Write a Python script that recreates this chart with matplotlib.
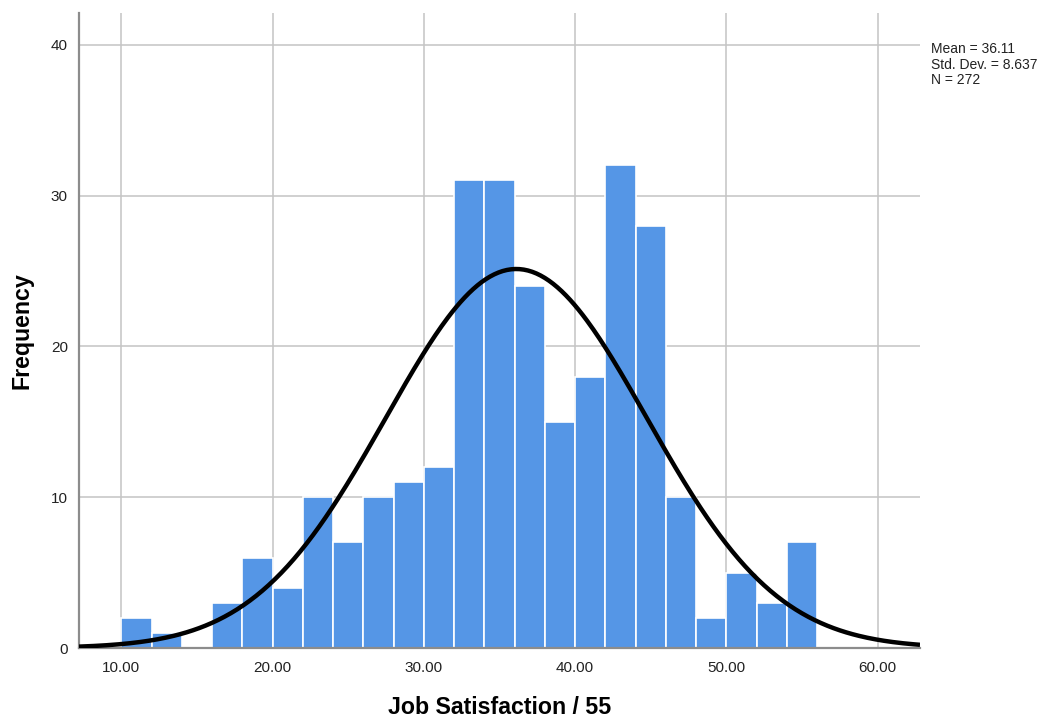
import numpy as np
import matplotlib
matplotlib.use("Agg")
import matplotlib.pyplot as plt

plt.rcParams['font.family'] = ['Liberation Sans', 'DejaVu Sans']

bin_edges = [10, 12, 14, 16, 18, 20, 22, 24, 26, 28, 30, 32, 34, 36, 38, 40,
             42, 44, 46, 48, 50, 52, 54, 56]
counts = [2, 1, 0, 3, 6, 4, 10, 7, 10, 11, 12, 31, 31, 24, 15, 18, 32, 28, 10,
          2, 5, 3, 7]
mean = 36.11
std = 8.637
n = 272
xticks = [10, 20, 30, 40, 50, 60]
yticks = [0, 10, 20, 30, 40]

fig = plt.figure(figsize=(10.54, 7.2), dpi=100)
ax = fig.add_axes([79/1054, 1-648/720, (920-79)/1054, (648-13)/720])

left = np.array(bin_edges[:-1])
widths = np.diff(bin_edges)
ax.bar(left, counts, width=widths, align='edge', color='#5596e6',
       edgecolor='white', linewidth=1.2, zorder=2)

xlim = (7.2, 62.8)
xs = np.linspace(xlim[0], xlim[1], 400)
bw = 2
ys = n * bw / (std * np.sqrt(2*np.pi)) * np.exp(-0.5*((xs-mean)/std)**2)
ax.plot(xs, ys, color='black', linewidth=3.2, zorder=3, solid_capstyle='butt')

ax.set_xlim(*xlim)
ax.set_ylim(0, 42.1)
ax.set_xticks(xticks)
ax.set_xticklabels([f"{t:.2f}" for t in xticks], fontsize=11, color='#222222')
ax.set_yticks(yticks)
ax.set_yticklabels([str(t) for t in yticks], fontsize=11, color='#222222')
ax.tick_params(length=0)
ax.tick_params(axis='x', pad=9)
ax.tick_params(axis='y', pad=8)
ax.grid(True, color='#c4c4c4', linewidth=1.1, zorder=0)
ax.set_axisbelow(True)
for s in ['top', 'right']:
    ax.spines[s].set_visible(False)
for s in ['left', 'bottom']:
    ax.spines[s].set_color('#8c8c8c')
    ax.spines[s].set_linewidth(1.6)

ax.set_xlabel('Job Satisfaction / 55', fontsize=16.7, fontweight='bold')
ax.xaxis.set_label_coords(0.5, -(707-648)/635, transform=ax.transAxes)
ax.xaxis.label.set_va('center')
ax.set_ylabel('Frequency', fontsize=16.7, fontweight='bold')
ax.yaxis.set_label_coords(-(79-22)/841, 0.5, transform=ax.transAxes)
ax.yaxis.label.set_va('center')

fig.text(931/1054, 1-42/720, f"Mean = {mean}\nStd. Dev. = {std}\nN = {n}",
         fontsize=10, va='top', ha='left', linespacing=1.15, color='#222222')

fig.savefig('out.png', dpi=100)
